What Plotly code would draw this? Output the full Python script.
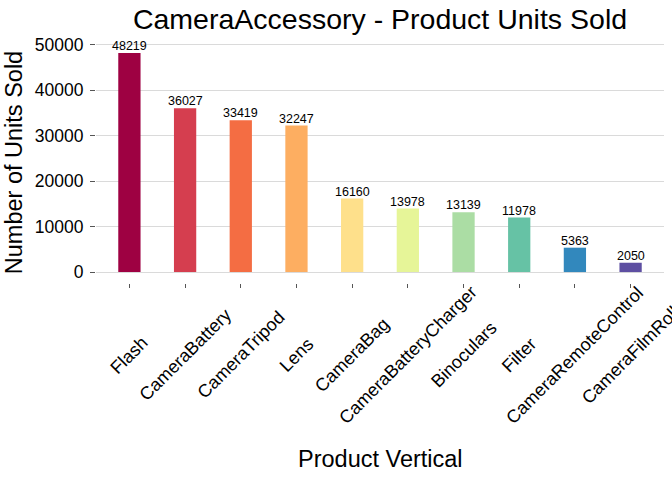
import plotly.graph_objects as go

categories = ["Flash", "CameraBattery", "CameraTripod", "Lens", "CameraBag",
              "CameraBatteryCharger", "Binoculars", "Filter",
              "CameraRemoteControl", "CameraFilmRoll"]
units_sold = [48219, 36027, 33419, 32247, 16160, 13978, 13139, 11978, 5363, 2050]
bar_colors = ["#9E0142", "#D53E4F", "#F46D43", "#FDAE61", "#FEE08B",
              "#E6F598", "#ABDDA4", "#66C2A5", "#3288BD", "#5E4FA2"]
y_ticks = [0, 10000, 20000, 30000, 40000, 50000]

FONT = "Liberation Sans, Arial, Helvetica, sans-serif"

fig = go.Figure()
fig.add_trace(go.Bar(
    x=categories, y=units_sold, marker=dict(color=bar_colors, line=dict(width=0)),
    width=0.4, showlegend=False, hoverinfo="x+y",
))

annotations = []
# value labels above bars
for c, v in zip(categories, units_sold):
    annotations.append(dict(
        x=c, y=v, xref="x", yref="y", text=str(v), showarrow=False,
        yanchor="bottom", xanchor="center", yshift=-2,
        font=dict(family=FONT, size=12.5, color="black"),
    ))
# rotated category labels (centered under ticks)
for c in categories:
    annotations.append(dict(
        x=c, y=0, xref="x", yref="paper", text=c, showarrow=False,
        textangle=-45, xanchor="center", yanchor="middle", yshift=-72,
        font=dict(family=FONT, size=18, color="black"),
    ))
# x axis title
annotations.append(dict(
    x=0.5, y=0, xref="paper", yref="paper", text="Product Vertical",
    showarrow=False, xanchor="center", yanchor="middle", yshift=-176,
    font=dict(family=FONT, size=23.5, color="black"),
))

ymax = max(units_sold)
fig.update_layout(
    width=672, height=480,
    margin=dict(l=95.5, r=7.5, t=42, b=197, pad=0),
    paper_bgcolor="white", plot_bgcolor="white",
    font=dict(family=FONT, color="black"),
    title=dict(text="CameraAccessory - Product Units Sold", x=0.5, xref="paper",
               xanchor="center", y=1 - 19 / 480, yref="container", yanchor="middle",
               font=dict(family=FONT, size=28.5, color="black")),
    xaxis=dict(
        range=[-0.6, len(categories) - 0.4], showgrid=False, zeroline=False,
        showline=False, ticks="outside", ticklen=4, tickwidth=1,
        tickcolor="#555555", showticklabels=False,
    ),
    yaxis=dict(
        range=[-0.05 * ymax, 1.05 * ymax], tickvals=y_ticks,
        ticktext=[str(t) for t in y_ticks],
        showgrid=True, gridcolor="#DADADA", gridwidth=1.1, zeroline=False,
        showline=False, ticks="outside", ticklen=5, tickwidth=1,
        tickcolor="#555555", ticklabelstandoff=3,
        tickfont=dict(family=FONT, size=17.5, color="black"),
        title=dict(text="Number of Units Sold", standoff=5,
                   font=dict(family=FONT, size=23.5, color="black")),
    ),
    annotations=annotations,
    bargap=0.6,
)

fig.write_html("out.html")
